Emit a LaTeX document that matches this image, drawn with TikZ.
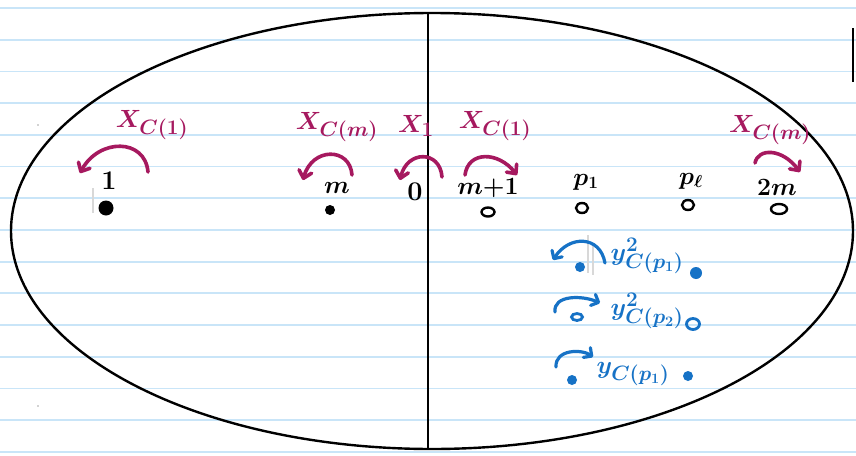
\documentclass[tikz,border=0pt]{standalone}
\usetikzlibrary{arrows.meta,shapes.geometric}
\definecolor{rulecol}{HTML}{C9E5F8}
\definecolor{plum}{HTML}{A6195F}
\definecolor{inkblue}{HTML}{1672C6}
\definecolor{smudge}{HTML}{D8D8D8}
\begin{document}
\begin{tikzpicture}[x=1pt,y=-1pt,
  ruleline/.style={draw=rulecol, line width=1.8pt},
  rim/.style={draw=black, line width=2.4pt},
  marr/.style={draw=plum, line width=3.6pt, line cap=round,
    -{Straight Barb[length=7pt,width=13pt,line cap=round,line join=round]}},
  barr/.style={draw=inkblue, line width=3.2pt, line cap=round,
    -{Straight Barb[length=6pt,width=12pt,line cap=round,line join=round]}},
  mlab/.style={text=plum, font=\fontsize{30}{34}\selectfont\boldmath, inner sep=0pt},
  klab/.style={text=black, font=\fontsize{27}{30}\selectfont\boldmath\bfseries, inner sep=0pt},
  blab/.style={text=inkblue, font=\fontsize{29}{32}\selectfont\boldmath, inner sep=0pt},
  kdot/.style={circle, fill=black, inner sep=0pt},
  kring/.style={ellipse, draw=black, line width=2.4pt, inner sep=0pt, minimum width=12pt, minimum height=9pt},
  bdot/.style={circle, fill=inkblue, inner sep=0pt, minimum size=9pt},
  bring/.style={draw=inkblue, line width=2.8pt, inner sep=0pt, minimum width=13pt, minimum height=11pt, ellipse},
  smear/.style={draw=smudge, line width=2pt}
]
\useasboundingbox (0,0) rectangle (856,455);
\fill[white] (0,0) rectangle (856,455);
\foreach \k in {0,...,14} \draw[ruleline] (0,{8+31.7*\k}) -- (856,{8+31.7*\k});

% faint smudges
\draw[smear] (93,188) -- (93,213);
\draw[smear] (588,235) -- (588,273);
\draw[smear, line width=1.5pt] (593,245) -- (593,275);
\fill[gray!70] (38,125) circle (0.9);
\fill[gray!70] (38,406) circle (0.9);
\coordinate (edgeA) at (853,28);
\coordinate (edgeB) at (853,82);
\draw[black, line width=2.4pt] (edgeA) -- (edgeB);

% ellipse and divider
\draw[rim] (432,231) ellipse [x radius=421, y radius=218];
\coordinate (top) at (428,13);
\coordinate (bot) at (428,449);
\draw[rim] (top) -- (bot);

% left half (filled points)
\node[klab] (n1) at (109,181) {1};
\node[kdot, minimum size=15pt] (d1) at (106,208) {};
\node[klab] (nm) at (337,188) {$m$};
\node[kdot, minimum size=10pt] (dm) at (330,210) {};
\node[klab] (n0) at (415,192) {0};

% right half (open points)
\node[klab] (nm1) at (488,188) {$m{+}1$};
\node[kring, minimum width=13pt] (om1) at (488,212) {};
\node[klab] (np1) at (586,182) {$p_1$};
\node[kring, minimum height=10pt] (op1) at (582,208) {};
\node[klab] (npl) at (691,181) {$p_\ell$};
\node[kring, minimum height=10pt] (opl) at (688,205) {};
\node[klab] (n2m) at (777,187) {$2m$};
\node[kring, minimum width=16pt, minimum height=10pt] (o2m) at (779,209) {};

% magenta labels
\node[mlab] (x1) at (152,125) {$X_{C(1)}$};
\node[mlab] (xm) at (337,127) {$X_{C(m)}$};
\node[mlab] (xone) at (416,126) {$X_{1}$};
\node[mlab] (x1r) at (495,126) {$X_{C(1)}$};
\node[mlab] (xmr) at (770,130) {$X_{C(m)}$};

% magenta arrows
\coordinate (a1s) at (148,172); \coordinate (a1t) at (80,173);
\draw[marr] (a1s) .. controls (145,138) and (99,138) .. (a1t);
\coordinate (ams) at (352,175); \coordinate (amt) at (303,180);
\draw[marr] (ams) .. controls (350,147) and (312,147) .. (amt);
\coordinate (a0s) at (442,177); \coordinate (a0t) at (400,180);
\draw[marr] (a0s) .. controls (440,150) and (407,150) .. (a0t);
\coordinate (aps) at (465,175); \coordinate (apt) at (517,175);
\draw[marr] (aps) .. controls (468,151) and (498,151) .. (apt);
\coordinate (a2s) at (755,163); \coordinate (a2t) at (800,172);
\draw[marr] (a2s) .. controls (758,148) and (782,148) .. (a2t);

% blue rows
\node[blab] (y1) at (647,256) {$y^{2}_{C(p_1)}$};
\node[bdot, minimum size=10pt] (b1l) at (580,267) {};
\node[bdot, minimum size=12pt] (b1r) at (696,273) {};
\coordinate (b1s) at (605,263); \coordinate (b1t) at (553,260);
\draw[barr] (b1s) .. controls (600,235) and (569,235) .. (b1t);

\node[blab] (y2) at (647,311) {$y^{2}_{C(p_2)}$};
\node[bring, minimum width=11pt, minimum height=7pt] (b2l) at (577,317) {};
\node[bring] (b2r) at (693,324) {};
\coordinate (b2s) at (555,312); \coordinate (b2t) at (600,303);
\draw[barr] (b2s) .. controls (553,295) and (582,295) .. (b2t);

\node[blab] (y3) at (633,374) {$y_{C(p_1)}$};
\node[bdot, minimum size=10pt] (b3l) at (572,380) {};
\node[bdot, minimum size=10pt] (b3r) at (688,376) {};
\coordinate (b3s) at (556,367); \coordinate (b3t) at (593,357);
\draw[barr] (b3s) .. controls (555,349) and (582,349) .. (b3t);
\end{tikzpicture}
\end{document}
